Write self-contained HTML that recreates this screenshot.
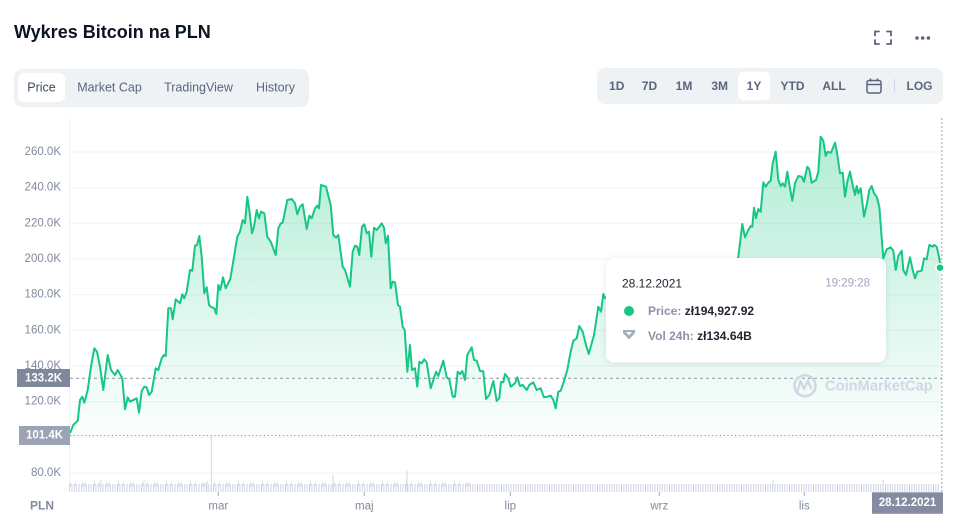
<!DOCTYPE html>
<html>
<head>
<meta charset="utf-8">
<style>
html,body{margin:0;padding:0;background:#fff;}
body{width:959px;height:518px;overflow:hidden;font-family:"Liberation Sans",sans-serif;}
svg{display:block;}
text{font-family:"Liberation Sans",sans-serif;}
</style>
</head>
<body>
<svg width="959" height="518" viewBox="0 0 959 518" xmlns="http://www.w3.org/2000/svg">
<defs>
<linearGradient id="g" x1="0" y1="130" x2="0" y2="437" gradientUnits="userSpaceOnUse">
<stop offset="0" stop-color="#16c784" stop-opacity="0.34"/>
<stop offset="0.6" stop-color="#16c784" stop-opacity="0.14"/>
<stop offset="1" stop-color="#16c784" stop-opacity="0.02"/>
</linearGradient>
<filter id="sh" x="-10%" y="-20%" width="120%" height="140%">
<feDropShadow dx="0" dy="1" stdDeviation="3" flood-color="#58667e" flood-opacity="0.18"/>
</filter>
</defs>

<!-- Header -->
<text x="14" y="38" font-size="18" font-weight="bold" fill="#0d1421">Wykres Bitcoin na PLN</text>
<path d="M875,35.5V31.5H879 M887,31.5H891V35.5 M891,40V44H887 M879,44H875V40" stroke="#58667e" stroke-width="1.8" fill="none" stroke-linecap="round"/>
<circle cx="917" cy="38" r="1.8" fill="#58667e"/>
<circle cx="922.7" cy="38" r="1.8" fill="#58667e"/>
<circle cx="928.4" cy="38" r="1.8" fill="#58667e"/>

<!-- Tabs -->
<rect x="14" y="69" width="295" height="38" rx="8" fill="#eff2f5"/>
<rect x="18" y="73" width="47" height="29" rx="6" fill="#fff"/>
<g font-size="12.5" fill="#58667e" dominant-baseline="central">
<text x="41.5" y="87.5" text-anchor="middle" fill="#3d4a60">Price</text>
<text x="109.5" y="87.5" text-anchor="middle">Market Cap</text>
<text x="198.5" y="87.5" text-anchor="middle">TradingView</text>
<text x="275.5" y="87.5" text-anchor="middle">History</text>
</g>

<!-- Range controls -->
<rect x="597" y="68" width="346" height="36" rx="8" fill="#eff2f5"/>
<rect x="738" y="71.5" width="32" height="29" rx="6" fill="#fff"/>
<g font-size="12" font-weight="bold" fill="#58667e" dominant-baseline="central" text-anchor="middle">
<text x="616.7" y="86">1D</text>
<text x="649.5" y="86">7D</text>
<text x="684" y="86">1M</text>
<text x="719.7" y="86">3M</text>
<text x="754" y="86">1Y</text>
<text x="792.5" y="86">YTD</text>
<text x="834" y="86">ALL</text>
<text x="919.5" y="86">LOG</text>
</g>
<rect x="867" y="80.5" width="14" height="12.5" rx="2" stroke="#58667e" stroke-width="1.5" fill="none"/>
<line x1="867" y1="84.5" x2="881" y2="84.5" stroke="#58667e" stroke-width="1.5"/>
<line x1="870.5" y1="78.5" x2="870.5" y2="81.5" stroke="#58667e" stroke-width="1.5"/>
<line x1="877.5" y1="78.5" x2="877.5" y2="81.5" stroke="#58667e" stroke-width="1.5"/>
<line x1="894.5" y1="79" x2="894.5" y2="92" stroke="#cfd6e4" stroke-width="1"/>

<!-- Grid -->
<g stroke="#eff2f5" stroke-width="1">
<line x1="69" y1="152" x2="942" y2="152"/>
<line x1="69" y1="187.7" x2="942" y2="187.7"/>
<line x1="69" y1="223.3" x2="942" y2="223.3"/>
<line x1="69" y1="259" x2="942" y2="259"/>
<line x1="69" y1="294.7" x2="942" y2="294.7"/>
<line x1="69" y1="330.3" x2="942" y2="330.3"/>
<line x1="69" y1="366" x2="942" y2="366"/>
<line x1="69" y1="401.7" x2="942" y2="401.7"/>
<line x1="69" y1="437.3" x2="942" y2="437.3"/>
<line x1="69" y1="473" x2="942" y2="473"/>
<line x1="69.5" y1="118" x2="69.5" y2="492"/>
</g>

<!-- Y labels -->
<g font-size="11.5" fill="#808a9d" text-anchor="end" dominant-baseline="central">
<text x="61" y="152">260.0K</text>
<text x="61" y="187.7">240.0K</text>
<text x="61" y="223.3">220.0K</text>
<text x="61" y="259">200.0K</text>
<text x="61" y="294.7">180.0K</text>
<text x="61" y="330.3">160.0K</text>
<text x="61" y="366">140.0K</text>
<text x="61" y="401.7">120.0K</text>
<text x="61" y="473">80.0K</text>
</g>

<!-- Area fill -->
<path fill="url(#g)" d="M70,433 L73.3,425 77.7,420.7 80,400 82.3,396.7 84.3,402.7 87.7,390 91,366.7 94.3,348.3 97,351.7 100,366.7 103.3,390 107.7,355 111,370 115,375 117.7,370 122.3,378.3 125,409.3 127.7,397.3 130,401.7 136.7,398.3 139,412.7 141.7,391 144.3,386.7 146.7,387.3 149,395 151.7,391.7 155.7,368.3 158.3,370 161.7,358.3 163.7,355 165.7,356 168.3,308.3 171,308.3 172.7,319.3 175.7,299.3 180,303.3 182.3,294.3 184.3,298.3 186.7,291.7 190,270 192.3,270.7 195,245.7 197,245 199.3,236 201.7,256.7 204.3,293.3 206.7,287.3 209,305 211.7,307.3 214.3,308.3 216.3,314 218.3,285 220.3,290 223,277.3 225.7,288.3 230.3,279 233.3,261 237.3,236.7 240,231.7 242.7,220 245,223.3 247.3,196.7 249.3,210 252,233.3 254,226.7 256.7,210 259,218.3 261,211.7 264.3,213.3 267.3,236.7 270.7,241.7 275.7,255 278.3,228.3 280.7,223.3 282.7,222.7 287.3,200 291.7,199 295,203.3 297.3,214.3 300,206.7 302.7,204.3 306.7,229 309.3,215.7 311.7,218.3 315,208.3 317.3,205.7 319,208.3 321,185 326,186.7 330.7,205 333.3,235 336,237.7 338.3,235 342.7,266.7 345,270 350,286.7 352.7,251.7 355,245.7 357.3,246.7 359.3,255 362,226.7 364.3,224.3 366.7,233.3 369,231.7 371.3,256.7 374,227.7 376.7,230 379.3,226.7 381.7,223.3 384,227.7 385.7,243.3 388,235.7 390.7,288.3 392.7,281.7 395,282.3 398,305 400,306.7 402.7,326.7 404.7,330 407.3,371.7 410,345 412,370 415,368.3 417.3,386.7 419.3,361.7 421.7,363.3 424.3,359.3 426.7,362.7 430.7,388.3 436,371.7 438.3,376 443.3,360.7 446.7,377.3 449.3,379.3 452.7,396.7 455,396.7 457.7,371.7 460,374 462.3,371 465,380 467.3,355 471.7,347.3 474,360 476.7,360.7 480,371 483.3,371.3 486,399 489.3,395 493.3,381 496.7,401 499.3,398 501,382 503.3,382.3 505,374 508.3,378.3 510.7,386.7 515,383.3 517.3,377.3 520,386 522.7,385 526.7,390 529.3,385 533.3,382.3 536.7,390 540.7,388.3 544,397.3 547.3,396.7 550.7,395.7 553.3,400 555.7,408.3 558.3,391.7 560.7,390.7 563.3,383.3 567.3,370 570,355 573.3,340.7 576.7,338.3 579.3,326 582.7,331.7 586,345 588.7,354 594,335 598.3,306.7 601,311.7 603.3,294 605,298.3 615,290 625,285 640,275 655,262 665,275 680,300 700,310 715,300 730,270 738.3,257.3 742.3,224 745,237.3 748.3,230 750.7,226 752.3,226.7 754,207.7 756,218.3 758.3,209 760.7,211.7 763.3,182.3 765.7,186.7 768.3,182.7 770.7,180.7 772.7,163.3 775.7,151.7 778.3,180 780.7,186 782.7,183.3 785,186.7 787.3,171.7 790,188.3 792.3,200.7 795,183.3 798.3,176 801.7,176.7 804,181.7 807.3,166.7 809.3,169.3 811.7,182.7 816,180 818.3,171.7 820.7,136.7 823.3,140.7 825.7,156 827.7,151.7 831,152.7 835,142.7 836.7,150.7 840,173.3 842.7,172.7 845,196.7 847.3,181.7 850,171.7 852.7,185 855,195 856.7,186 858.3,193.3 860.7,188.3 864,216.7 866.7,205 869.3,190 871.7,186 874,193.3 876.7,196.7 879.3,206.7 883.3,258.3 886.7,249.3 890.7,247.3 893.3,250.7 895.7,270 898.3,256 901.7,250.7 903.3,270 906,275 910,257.3 912.7,270 915,278.3 917.3,271.7 921.7,270.7 924,258.3 926.7,259.3 929.3,245 932.7,246.7 934,245 936.7,246.7 939.3,258.3 940.5,267.5 L940.5,437 L70,437 Z"/>

<!-- Reference lines -->
<line x1="70" y1="378.3" x2="942" y2="378.3" stroke="#8f96aa" stroke-width="1" stroke-dasharray="3 3"/>
<line x1="70" y1="435.5" x2="942" y2="435.5" stroke="#8f96aa" stroke-width="1" stroke-dasharray="1.2 2.6"/>
<line x1="941.8" y1="118" x2="941.8" y2="492" stroke="#a1a7bb" stroke-width="1" stroke-dasharray="2 2"/>

<!-- Watermark -->
<circle cx="805" cy="385.7" r="10.5" fill="none" stroke="#d3d7e1" stroke-width="2.5"/>
<path d="M797.5,391 L800.5,381 L804,389 L808,380.5 L811,388" fill="none" stroke="#d3d7e1" stroke-width="2.3" stroke-linejoin="round" stroke-linecap="round"/>
<text x="825" y="386.7" font-size="14.7" font-weight="bold" fill="#d3d7e1" dominant-baseline="central">CoinMarketCap</text>

<!-- Price line -->
<path fill="none" stroke="#16c784" stroke-width="2" stroke-linejoin="round" d="M70,433 L73.3,425 77.7,420.7 80,400 82.3,396.7 84.3,402.7 87.7,390 91,366.7 94.3,348.3 97,351.7 100,366.7 103.3,390 107.7,355 111,370 115,375 117.7,370 122.3,378.3 125,409.3 127.7,397.3 130,401.7 136.7,398.3 139,412.7 141.7,391 144.3,386.7 146.7,387.3 149,395 151.7,391.7 155.7,368.3 158.3,370 161.7,358.3 163.7,355 165.7,356 168.3,308.3 171,308.3 172.7,319.3 175.7,299.3 180,303.3 182.3,294.3 184.3,298.3 186.7,291.7 190,270 192.3,270.7 195,245.7 197,245 199.3,236 201.7,256.7 204.3,293.3 206.7,287.3 209,305 211.7,307.3 214.3,308.3 216.3,314 218.3,285 220.3,290 223,277.3 225.7,288.3 230.3,279 233.3,261 237.3,236.7 240,231.7 242.7,220 245,223.3 247.3,196.7 249.3,210 252,233.3 254,226.7 256.7,210 259,218.3 261,211.7 264.3,213.3 267.3,236.7 270.7,241.7 275.7,255 278.3,228.3 280.7,223.3 282.7,222.7 287.3,200 291.7,199 295,203.3 297.3,214.3 300,206.7 302.7,204.3 306.7,229 309.3,215.7 311.7,218.3 315,208.3 317.3,205.7 319,208.3 321,185 326,186.7 330.7,205 333.3,235 336,237.7 338.3,235 342.7,266.7 345,270 350,286.7 352.7,251.7 355,245.7 357.3,246.7 359.3,255 362,226.7 364.3,224.3 366.7,233.3 369,231.7 371.3,256.7 374,227.7 376.7,230 379.3,226.7 381.7,223.3 384,227.7 385.7,243.3 388,235.7 390.7,288.3 392.7,281.7 395,282.3 398,305 400,306.7 402.7,326.7 404.7,330 407.3,371.7 410,345 412,370 415,368.3 417.3,386.7 419.3,361.7 421.7,363.3 424.3,359.3 426.7,362.7 430.7,388.3 436,371.7 438.3,376 443.3,360.7 446.7,377.3 449.3,379.3 452.7,396.7 455,396.7 457.7,371.7 460,374 462.3,371 465,380 467.3,355 471.7,347.3 474,360 476.7,360.7 480,371 483.3,371.3 486,399 489.3,395 493.3,381 496.7,401 499.3,398 501,382 503.3,382.3 505,374 508.3,378.3 510.7,386.7 515,383.3 517.3,377.3 520,386 522.7,385 526.7,390 529.3,385 533.3,382.3 536.7,390 540.7,388.3 544,397.3 547.3,396.7 550.7,395.7 553.3,400 555.7,408.3 558.3,391.7 560.7,390.7 563.3,383.3 567.3,370 570,355 573.3,340.7 576.7,338.3 579.3,326 582.7,331.7 586,345 588.7,354 594,335 598.3,306.7 601,311.7 603.3,294 605,298.3 615,290 625,285 640,275 655,262 665,275 680,300 700,310 715,300 730,270 738.3,257.3 742.3,224 745,237.3 748.3,230 750.7,226 752.3,226.7 754,207.7 756,218.3 758.3,209 760.7,211.7 763.3,182.3 765.7,186.7 768.3,182.7 770.7,180.7 772.7,163.3 775.7,151.7 778.3,180 780.7,186 782.7,183.3 785,186.7 787.3,171.7 790,188.3 792.3,200.7 795,183.3 798.3,176 801.7,176.7 804,181.7 807.3,166.7 809.3,169.3 811.7,182.7 816,180 818.3,171.7 820.7,136.7 823.3,140.7 825.7,156 827.7,151.7 831,152.7 835,142.7 836.7,150.7 840,173.3 842.7,172.7 845,196.7 847.3,181.7 850,171.7 852.7,185 855,195 856.7,186 858.3,193.3 860.7,188.3 864,216.7 866.7,205 869.3,190 871.7,186 874,193.3 876.7,196.7 879.3,206.7 883.3,258.3 886.7,249.3 890.7,247.3 893.3,250.7 895.7,270 898.3,256 901.7,250.7 903.3,270 906,275 910,257.3 912.7,270 915,278.3 917.3,271.7 921.7,270.7 924,258.3 926.7,259.3 929.3,245 932.7,246.7 934,245 936.7,246.7 939.3,258.3 940.5,267.5"/>
<circle cx="940" cy="267.7" r="4" fill="#16c784" stroke="#fff" stroke-width="1.5"/>

<!-- Volume bars -->
<line x1="69" y1="488" x2="940" y2="488" stroke="#cfd6e4" stroke-width="8" stroke-dasharray="1 1.4"/>
<line x1="70" y1="484.5" x2="470" y2="484.5" stroke="#cfd6e4" stroke-width="4" stroke-dasharray="1 3.8 1 6.2 1 1.4 1 8.6"/>
<line x1="470" y1="485.5" x2="940" y2="485.5" stroke="#cfd6e4" stroke-width="2" stroke-dasharray="1 6.2 1 3.8 1 11"/>
<line x1="211.3" y1="436" x2="211.3" y2="492" stroke="#cfd6e4" stroke-width="1"/>
<line x1="101" y1="480" x2="101" y2="492" stroke="#cfd6e4" stroke-width="1"/>
<line x1="144" y1="480" x2="144" y2="492" stroke="#cfd6e4" stroke-width="1"/>
<line x1="207" y1="481" x2="207" y2="492" stroke="#cfd6e4" stroke-width="1"/>
<line x1="407" y1="471" x2="407" y2="492" stroke="#cfd6e4" stroke-width="1"/>
<line x1="333" y1="475" x2="333" y2="492" stroke="#cfd6e4" stroke-width="1"/>
<line x1="773" y1="480" x2="773" y2="492" stroke="#cfd6e4" stroke-width="1"/>
<line x1="883" y1="480" x2="883" y2="492" stroke="#cfd6e4" stroke-width="1"/>

<!-- X axis -->
<g stroke="#a1a7bb" stroke-width="1">
<line x1="218.3" y1="492" x2="218.3" y2="496"/>
<line x1="364.3" y1="492" x2="364.3" y2="496"/>
<line x1="510.3" y1="492" x2="510.3" y2="496"/>
<line x1="659.3" y1="492" x2="659.3" y2="496"/>
<line x1="804.3" y1="492" x2="804.3" y2="496"/>
</g>
<g font-size="11.5" fill="#808a9d" text-anchor="middle" dominant-baseline="central">
<text x="218.3" y="506.5">mar</text>
<text x="364.3" y="506.5">maj</text>
<text x="510.3" y="506.5">lip</text>
<text x="659.3" y="506.5">wrz</text>
<text x="804.3" y="506.5">lis</text>
</g>
<text x="42" y="505.5" font-size="12" font-weight="bold" fill="#808a9d" text-anchor="middle" dominant-baseline="central">PLN</text>

<!-- Value tags -->
<rect x="17" y="369" width="53" height="18" fill="#7f879b"/>
<text x="43.5" y="378.3" font-size="11.5" font-weight="bold" fill="#fff" text-anchor="middle" dominant-baseline="central">133.2K</text>
<rect x="19" y="426" width="51" height="19" fill="#9ca3b4"/>
<text x="44.5" y="435.5" font-size="11.5" font-weight="bold" fill="#fff" text-anchor="middle" dominant-baseline="central">101.4K</text>
<rect x="872" y="492.3" width="71" height="21.5" fill="#858ca2"/>
<text x="907.5" y="503" font-size="11.5" font-weight="bold" fill="#fff" text-anchor="middle" dominant-baseline="central">28.12.2021</text>

<!-- Tooltip -->
<rect x="606" y="258" width="280" height="104.5" rx="8" fill="#fff" filter="url(#sh)"/>
<text x="622" y="283.3" font-size="12" fill="#222531" dominant-baseline="central">28.12.2021</text>
<text x="870" y="283.3" font-size="11.5" fill="#a1a7bb" text-anchor="end" dominant-baseline="central">19:29:28</text>
<circle cx="629" cy="311" r="5" fill="#16c784"/>
<text x="648" y="311" font-size="12" font-weight="bold" dominant-baseline="central"><tspan fill="#8c93a6">Price: </tspan><tspan fill="#222531">zł194,927.92</tspan></text>
<path d="M623,330 H635 V333 L629,339.5 L623,333 Z" fill="#a6adbf"/>
<path d="M626,332 H632 L629,335.5 Z" fill="#fff"/>
<text x="648" y="336" font-size="12" font-weight="bold" dominant-baseline="central"><tspan fill="#8c93a6">Vol 24h: </tspan><tspan fill="#222531">zł134.64B</tspan></text>
</svg>
</body>
</html>
